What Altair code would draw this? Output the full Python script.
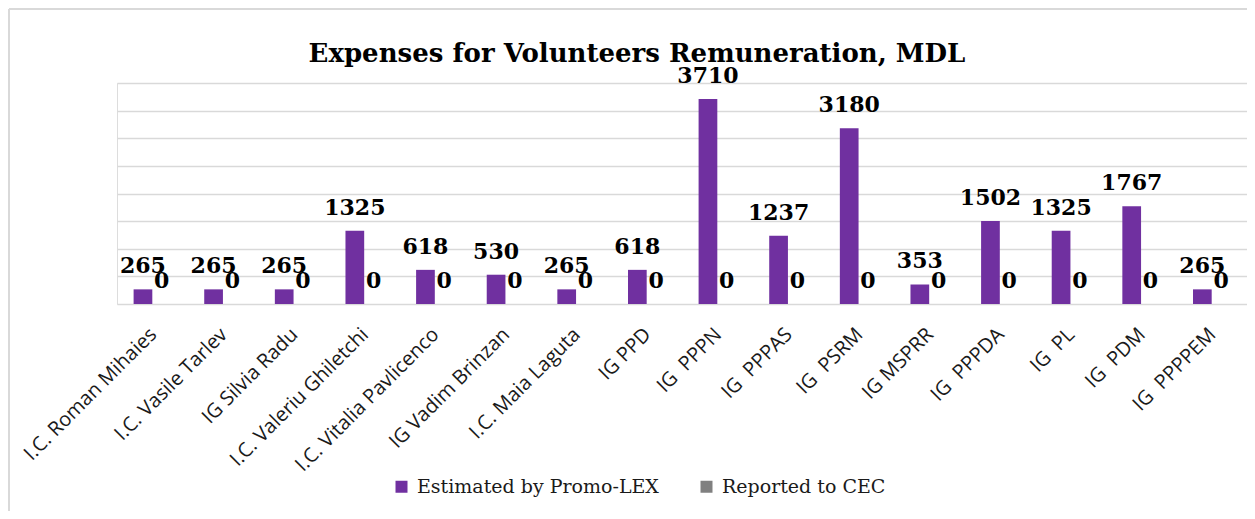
import altair as alt
import pandas as pd

categories = [
    "I.C. Roman Mihaies", "I.C. Vasile Tarlev", "IG Silvia Radu",
    "I.C. Valeriu Ghiletchi", "I.C. Vitalia Pavlicenco", "IG Vadim Brinzan",
    "I.C. Maia Laguta", "IG PPD", "IG \u00a0PPPN", "IG \u00a0PPPAS",
    "IG \u00a0PSRM", "IG MSPRR", "IG \u00a0PPPDA", "IG \u00a0PL",
    "IG \u00a0PDM", "IG \u00a0PPPPEM",
]
estimated = [265, 265, 265, 1325, 618, 530, 265, 618, 3710, 1237, 3180, 353, 1502, 1325, 1767, 265]
reported = [0, 0, 0, 0, 0, 0, 0, 0, 0, 0, 0, 0, 0, 0, 0, 0]
series = ["Estimated by Promo-LEX", "Reported to CEC"]
colors = ["#7030A0", "#808080"]
y_ticks = [0, 500, 1000, 1500, 2000, 2500, 3000, 3500, 4000]
title_text = "Expenses for Volunteers Remuneration, MDL"

rows = []
for c, e, r in zip(categories, estimated, reported):
    rows.append({"category": c, "series": series[0], "value": e})
    rows.append({"category": c, "series": series[1], "value": r})
df = pd.DataFrame(rows)

W, H = 1130, 221

base = alt.Chart(df).encode(
    x=alt.X(
        "category:N", sort=categories, title=None,
        scale=alt.Scale(paddingInner=0.47, paddingOuter=0.235),
        axis=alt.Axis(labelAngle=-45, labelFont="Open Sans", labelFontSize=20,
                      labelColor="#1a1a1a", labelLimit=400, ticks=False, tickSize=0,
                      domain=False, labelPadding=20, labelOffset=-6, grid=False),
    ),
    xOffset=alt.XOffset("series:N", sort=series, scale=alt.Scale(paddingInner=0)),
    y=alt.Y(
        "value:Q", title=None, scale=alt.Scale(domain=[0, 4000], nice=False),
        axis=alt.Axis(values=y_ticks, labels=False, ticks=False, domain=False,
                      grid=True, gridColor="#d9d9d9", gridWidth=1.6),
    ),
)

bars = base.mark_bar().encode(
    color=alt.Color(
        "series:N", sort=series,
        scale=alt.Scale(domain=series, range=colors),
        legend=alt.Legend(
            title=None, orient="none", legendX=275, legendY=394,
            direction="horizontal", symbolType="square", symbolSize=144,
            symbolStrokeWidth=0, labelFont="DejaVu Serif", labelFontSize=19,
            labelColor="#1a1a1a", labelOffset=6, columnPadding=38, padding=0,
            labelLimit=400,
        ),
    )
)

labels = base.mark_text(
    font="DejaVu Serif", fontWeight="bold", fontSize=22, color="#000000",
    baseline="alphabetic", dy=-16,
).encode(text="value:Q")

frame = alt.Chart(pd.DataFrame({"f": [1]})).mark_rule(
    stroke="#d9d9d9", strokeWidth=2
).encode(
    x=alt.value(-108), y=alt.value(-74), y2=alt.value(440)
)
frame_top = alt.Chart(pd.DataFrame({"f": [1]})).mark_rule(
    stroke="#d9d9d9", strokeWidth=2
).encode(
    x=alt.value(-108), x2=alt.value(1151), y=alt.value(-74)
)

chart = alt.layer(frame, frame_top, bars, labels).properties(
    width=W, height=H,
    title=alt.TitleParams(title_text, font="DejaVu Serif", fontSize=26,
                          fontWeight="bold", color="#000000", anchor="middle",
                          baseline="alphabetic", offset=-80, dx=-45),
    autosize=alt.AutoSizeParams(type="none"),
    padding={"left": 109, "top": 75, "right": 0, "bottom": 207},
).configure_view(stroke=None).configure(background="white")

chart.save("out.html", embed_options={"renderer": "svg", "actions": False})
